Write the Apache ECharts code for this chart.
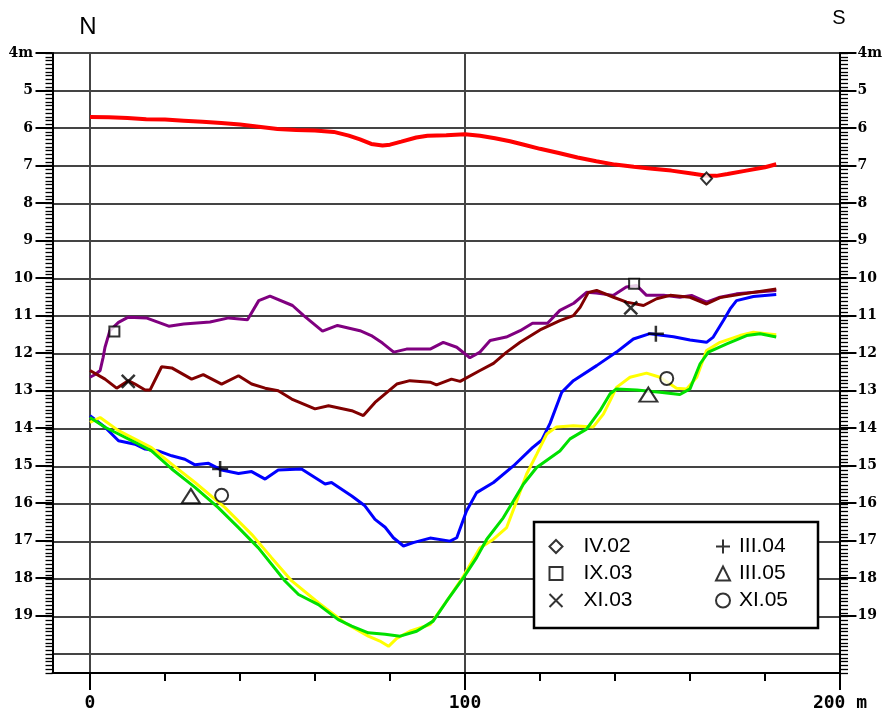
<!DOCTYPE html>
<html>
<head>
<meta charset="utf-8">
<title>Profil N-S</title>
<script src="https://cdn.jsdelivr.net/npm/echarts@6.0.0/dist/echarts.min.js"></script>
<style>
    html, body { margin: 0; padding: 0; background: #fff; }
    #main { width: 885px; height: 715px; }
</style>
</head>
<body>
<div id="main"></div>
<script type="text/javascript">
    // [distance m, depth m]
    var lineIV02 = [[0,5.70],[5,5.71],[10,5.73],[15,5.76],[20,5.77],[25,5.80],[30,5.83],[35,5.86],[40,5.90],[45,5.96],[50,6.02],[55,6.05],[60,6.06],[65,6.10],[69,6.20],[72,6.30],[75,6.42],[78,6.46],[80,6.44],[83,6.36],[87,6.25],[90,6.20],[95,6.19],[100,6.16],[104,6.20],[108,6.27],[112,6.35],[116,6.45],[120,6.55],[125,6.66],[130,6.78],[135,6.88],[140,6.97],[145,7.03],[150,7.08],[155,7.13],[160,7.20],[164,7.26],[167,7.27],[170,7.22],[175,7.13],[180,7.04],[183,6.96]];
    var lineIX03 = [[0,12.63],[1.5,12.55],[2.7,12.45],[3.5,12.1],[4,11.83],[5.3,11.39],[7.6,11.17],[10.2,11.03],[15,11.05],[21,11.27],[25,11.21],[32,11.16],[37,11.05],[42,11.1],[45,10.59],[48,10.47],[54,10.72],[57,10.99],[62,11.4],[66,11.25],[72,11.39],[75,11.52],[78,11.72],[81,11.96],[84.4,11.88],[90.7,11.88],[94.2,11.7],[97.8,11.83],[101.3,12.11],[104,11.96],[106.7,11.65],[111,11.56],[114.7,11.39],[118,11.19],[122,11.19],[125.3,10.85],[129,10.66],[132.4,10.37],[135,10.39],[139.6,10.45],[143,10.23],[145.8,10.19],[148.4,10.45],[153,10.45],[157.3,10.5],[160.4,10.45],[164.4,10.63],[168,10.5],[172.4,10.41],[178,10.36],[183,10.32]];
    var lineXI03 = [[0,12.45],[4,12.68],[7.1,12.92],[10.2,12.72],[12,12.81],[14.7,12.97],[16,12.97],[19.1,12.35],[21.8,12.38],[27.1,12.68],[30.2,12.56],[35.1,12.81],[39.6,12.59],[43.1,12.81],[46.7,12.92],[50.2,12.99],[53.8,13.21],[60,13.47],[63.6,13.39],[69.8,13.52],[72.9,13.65],[76,13.3],[78.7,13.07],[81.8,12.81],[85.3,12.72],[90.7,12.76],[92.4,12.83],[96.4,12.68],[98.7,12.74],[104,12.45],[107.6,12.26],[111.1,11.96],[114.7,11.7],[120,11.37],[125.3,11.12],[128.9,10.99],[130.7,10.77],[132.9,10.37],[135.1,10.32],[139.6,10.5],[143.1,10.63],[147.6,10.72],[151.1,10.54],[154.7,10.45],[160,10.5],[164.4,10.68],[168,10.51],[174.2,10.41],[183,10.28]];
    var lineIII04 = [[0,13.65],[4,13.96],[7.6,14.32],[12,14.41],[14.7,14.54],[18.2,14.59],[21.8,14.72],[25.3,14.81],[28,14.96],[31.6,14.92],[35.1,15.1],[39.6,15.19],[43.1,15.14],[46.7,15.34],[50.2,15.1],[56.4,15.07],[62.7,15.47],[64.4,15.43],[69.8,15.79],[73.3,16.05],[76,16.41],[78.7,16.62],[80.9,16.9],[83.6,17.12],[86.2,17.03],[90.7,16.91],[96,16.99],[97.8,16.9],[100.4,16.19],[103.1,15.7],[107.6,15.43],[112.9,14.99],[118,14.5],[120.5,14.3],[122.7,13.85],[125.8,13.03],[128.9,12.72],[135.1,12.32],[140.4,11.96],[144.9,11.61],[149.3,11.47],[155.6,11.55],[160,11.64],[164.4,11.7],[166.2,11.56],[168.9,11.12],[170.7,10.81],[172.4,10.59],[176.9,10.48],[183,10.43]];
    var lineXI05 = [[0,13.83],[2.7,13.7],[7.6,14.05],[16.4,14.5],[21.8,14.94],[28,15.43],[36,16.1],[43.1,16.81],[48.4,17.43],[53.8,18.05],[60.9,18.63],[68,19.17],[74.2,19.52],[77.3,19.65],[79.6,19.79],[81.8,19.58],[85.3,19.39],[90.7,19.21],[95.1,18.59],[99.6,17.92],[104,17.17],[107.6,16.94],[111.1,16.63],[113.8,15.92],[116.4,15.21],[119.1,14.68],[121.8,14.14],[124.4,13.95],[128.9,13.92],[134.2,13.95],[136.9,13.61],[138.7,13.25],[140.4,12.9],[144,12.63],[148.4,12.52],[152,12.63],[156.4,12.92],[159.1,12.94],[161.8,12.63],[164.4,11.92],[168,11.7],[173.3,11.52],[176.9,11.43],[180.4,11.47],[183,11.5]];
    var lineIII05 = [[0,13.7],[4,13.96],[7.6,14.14],[12,14.36],[16.4,14.59],[21.8,15.07],[28,15.56],[34.2,16.1],[39.6,16.63],[44.9,17.17],[52,18.05],[55.6,18.41],[60.9,18.68],[66.2,19.08],[69.8,19.25],[74.2,19.43],[78.7,19.47],[82.7,19.52],[87.1,19.39],[91.5,19.12],[95.1,18.59],[99.6,17.96],[103.1,17.43],[105.8,16.94],[110.2,16.37],[112.9,15.92],[115.6,15.47],[119.1,15.03],[125.3,14.59],[128,14.27],[132.4,14.01],[136,13.52],[138.7,13.07],[140.4,12.94],[145.8,12.97],[152,13.03],[157.3,13.09],[160,12.94],[162.7,12.27],[164.9,11.96],[169.8,11.74],[175.1,11.52],[178.7,11.47],[183,11.56]];

    // survey markers
    var markIV02 = [[164.4,7.34]];
    var markIX03 = [[6.5,11.41],[145.1,10.14]];
    var markXI03 = [[10.2,12.74],[144.2,10.78]];
    var markIII04 = [[34.7,15.07],[150.9,11.47]];
    var markIII05 = [[26.9,15.79],[148.9,13.09]];
    var markXI05 = [[35.1,15.77],[153.8,12.66]];

    var legendLeft = ['IV.02', 'IX.03', 'XI.03'];
    var legendRight = ['III.04', 'III.05', 'XI.05'];

    var symX = 'path://M0,0L10,10M10,0L0,10';
    var symPlus = 'path://M0,5L10,5M5,0L5,10';

    var myChart = echarts.init(document.getElementById('main'));

    var gridLine = {color: '#444', width: 2};
    var black = {color: '#000', width: 2};
    var yFont = {fontFamily: 'DejaVu Serif', fontWeight: 'bold', fontSize: 14, color: '#000'};
    var markStyle = {color: '#fff', borderColor: '#000', borderWidth: 2};
    var crossStyle = {color: '#fff', borderColor: '#000', borderWidth: 2.5};

    function lineSeries(data, color, w) {
        return {
            type: 'line', xAxisIndex: 0, yAxisIndex: 0, data: data,
            showSymbol: false, symbol: 'none', silent: true,
            lineStyle: {color: color, width: w}
        };
    }
    function markSeries(name, data, symbol, size, style) {
        return {
            name: name, type: 'scatter', xAxisIndex: 0, yAxisIndex: 0, data: data,
            symbol: symbol, symbolSize: size, itemStyle: style || markStyle, z: 5
        };
    }

    var legendBase = {
        orient: 'vertical', top: 536, padding: 0, itemWidth: 13, itemHeight: 13, itemGap: 6, z: 110,
        selectedMode: false,
        itemStyle: {color: '#fff', borderColor: '#000', borderWidth: 2},
        textStyle: {fontFamily: 'Liberation Sans', fontSize: 21, color: '#000', lineHeight: 20}
    };

    var option = {
        backgroundColor: '#fff',
        animation: false,
        grid: [
            {left: 52.5, right: 45, top: 53, bottom: 42},
            {left: 90, right: 45, top: 53, bottom: 42},
            {left: 52.5, right: 45, top: 53, height: 562.5}
        ],
        xAxis: [
            {gridIndex: 0, type: 'value', min: -10, max: 200,
                axisLine: {onZero: false, lineStyle: black},
                axisTick: {show: false}, axisLabel: {show: false}, splitLine: {show: false}},
            {gridIndex: 1, type: 'value', min: 0, max: 200, interval: 100,
                axisLine: {show: false, onZero: false},
                axisTick: {length: 17, lineStyle: black},
                minorTick: {show: true, splitNumber: 5, length: 8, lineStyle: black},
                axisLabel: {margin: 21, fontFamily: 'DejaVu Sans Mono', fontWeight: 'bold', fontSize: 18, color: '#000',
                    formatter: function (v) { return v === 200 ? '200 m' : String(v); }},
                splitLine: {show: true, lineStyle: gridLine}},
            {gridIndex: 2, type: 'value', min: -10, max: 200, show: false}
        ],
        yAxis: [
            // main depth axis with grid lines
            {gridIndex: 0, type: 'value', inverse: true, min: 4, max: 20.5, interval: 1, position: 'left',
                axisLine: {onZero: false, lineStyle: black},
                axisTick: {show: false}, axisLabel: {show: false},
                splitLine: {show: true, lineStyle: gridLine}},
            // small ticks every 0.1 m, left
            {gridIndex: 0, type: 'value', inverse: true, min: 4, max: 20.5, interval: 0.1, position: 'left',
                axisLine: {show: false, onZero: false},
                axisTick: {length: 7, lineStyle: {color: '#000', width: 1.3}},
                axisLabel: {show: false}, splitLine: {show: false}},
            // small ticks every 0.1 m, right
            {gridIndex: 0, type: 'value', inverse: true, min: 4, max: 20.5, interval: 0.1, position: 'right',
                axisLine: {show: true, onZero: false, lineStyle: black},
                axisTick: {length: 8, lineStyle: {color: '#000', width: 1.3}},
                axisLabel: {show: false}, splitLine: {show: false}},
            {gridIndex: 1, type: 'value', inverse: true, min: 4, max: 20.5, show: false},
            // labelled metres 4..19
            {gridIndex: 2, type: 'value', inverse: true, min: 4, max: 19, interval: 1, position: 'left',
                axisLine: {show: false, onZero: false},
                axisTick: {length: 17, lineStyle: black},
                axisLabel: Object.assign({margin: 19.5, formatter: function (v) { return v === 4 ? '4m' : String(v); }}, yFont),
                splitLine: {show: false}},
            {gridIndex: 2, type: 'value', inverse: true, min: 4, max: 19, interval: 1, position: 'right',
                axisLine: {show: false, onZero: false},
                axisTick: {length: 17, lineStyle: black},
                axisLabel: Object.assign({margin: 18, formatter: function (v) { return v === 4 ? '4m' : String(v); }}, yFont),
                splitLine: {show: false}}
        ],
        legend: [
            Object.assign({}, legendBase, {left: 548.5,
                textStyle: Object.assign({}, legendBase.textStyle, {padding: [0, 0, 0, 16]}),
                data: [{name: legendLeft[0], icon: 'diamond'}, {name: legendLeft[1], icon: 'rect'}, {name: legendLeft[2], icon: symX}]}),
            Object.assign({}, legendBase, {left: 715, itemWidth: 14, itemHeight: 14,
                textStyle: Object.assign({}, legendBase.textStyle, {padding: [0, 0, 0, 4]}),
                data: [{name: legendRight[0], icon: symPlus}, {name: legendRight[1], icon: 'triangle'}, {name: legendRight[2], icon: 'circle'}]})
        ],
        graphic: [
            {type: 'rect', z: 100, shape: {x: 534, y: 522, width: 284, height: 106},
                style: {fill: '#fff', stroke: '#000', lineWidth: 2.5}},
            {type: 'text', x: 88, y: 27, z: 100,
                style: {text: 'N', font: '24px "Liberation Sans"', fill: '#000', align: 'center', verticalAlign: 'middle'}},
            {type: 'text', x: 839, y: 18, z: 100,
                style: {text: 'S', font: '20px "Liberation Sans"', fill: '#000', align: 'center', verticalAlign: 'middle'}}
        ],
        series: [
            lineSeries(lineIV02, '#ff0000', 4),
            lineSeries(lineIX03, '#800080', 3),
            lineSeries(lineXI03, '#800000', 3),
            lineSeries(lineIII04, '#0000ff', 3),
            lineSeries(lineXI05, '#ffff00', 3),
            lineSeries(lineIII05, '#00e000', 3),
            markSeries(legendLeft[0], markIV02, 'diamond', [11, 12]),
            markSeries(legendLeft[1], markIX03, 'rect', 10),
            markSeries(legendLeft[2], markXI03, symX, 13, crossStyle),
            markSeries(legendRight[0], markIII04, symPlus, 16, crossStyle),
            markSeries(legendRight[1], markIII05, 'triangle', [18, 14]),
            markSeries(legendRight[2], markXI05, 'circle', 13)
        ]
    };

    myChart.setOption(option);
</script>
</body>
</html>
